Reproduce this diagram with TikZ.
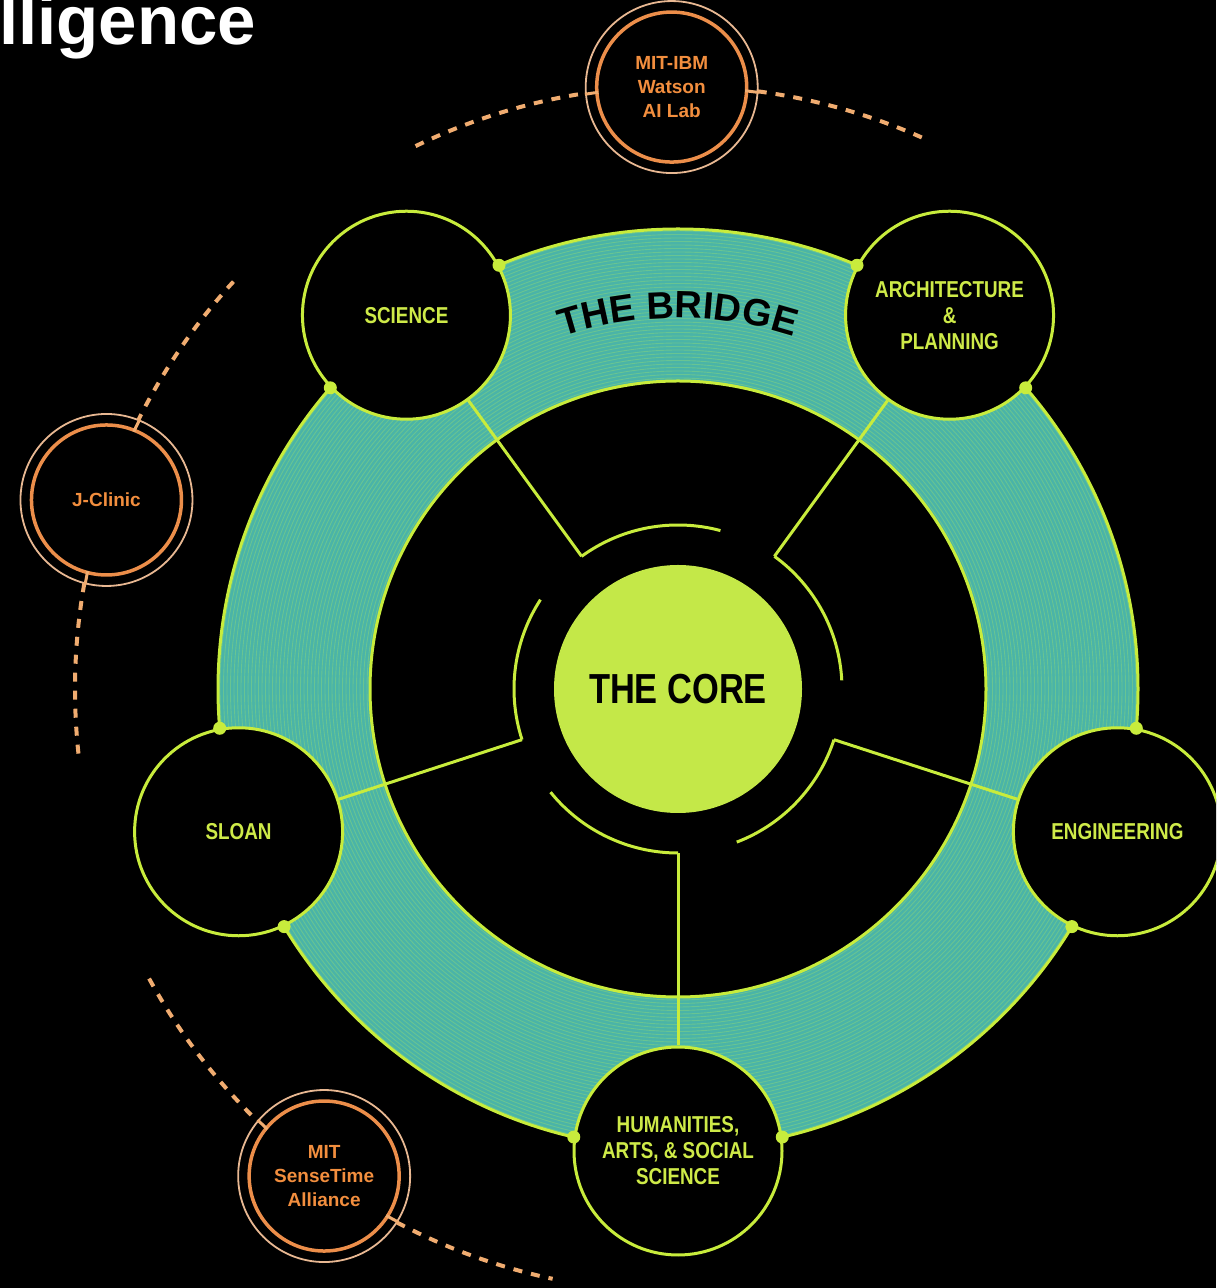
\documentclass[tikz,border=0pt]{standalone}
\usepackage{fontspec}
\usetikzlibrary{decorations.text}
\newfontfamily\lsans{Liberation Sans}
\newfontfamily\lcond{Liberation Sans}[FakeStretch=0.82]
\newcommand\bridgefont{\color{black}\lsans\bfseries\fontsize{38}{40}\selectfont}
\definecolor{lime}{RGB}{200,236,60}
\definecolor{coregreen}{RGB}{196,232,72}
\definecolor{limetext}{RGB}{206,234,72}
\definecolor{tealfill}{RGB}{74,180,168}
\definecolor{tealstripe}{RGB}{104,196,146}
\definecolor{orangering}{RGB}{236,142,74}
\definecolor{peach}{RGB}{232,184,146}
\definecolor{dashcol}{RGB}{240,172,112}
\definecolor{orangetext}{RGB}{242,142,62}
\begin{document}
\begin{tikzpicture}[x=1pt,y=1pt,
  limeline/.style={draw=lime,line width=3pt},
  satbox/.style={circle,draw=lime,line width=3pt,fill=black,minimum size=208pt,inner sep=0pt,
    text=limetext,align=center,font=\lcond\bfseries\fontsize{23}{26}\selectfont},
  orgbox/.style={circle,draw=orangering,line width=3.5pt,fill=black,minimum size=150pt,inner sep=0pt,
    text=orangetext,align=center,font=\lsans\bfseries\fontsize{19}{24}\selectfont},
  outring/.style={draw=peach,line width=1.8pt},
  dashline/.style={draw=dashcol,line width=4pt,dash pattern=on 9pt off 9pt},
  tickline/.style={draw=dashcol,line width=3pt},
  stripe/.style={draw=tealstripe,line width=0.9pt},
  dotmark/.style={fill=lime}
]
\useasboundingbox (0,0) rectangle (1216,1288);
\fill[black] (0,0) rectangle (1216,1288);
\clip (0,0) rectangle (1216,1288);

% title fragment
\node[anchor=base west,text=white,inner sep=0pt,font=\lsans\bfseries\fontsize{69}{72}\selectfont] (title) at (-1,1243) {lligence};

\begin{scope}[shift={(678,599)}]
  % the bridge ring
  \fill[tealfill] (0,0) circle (460);
  \foreach \r in {311,314.5,...,458} \draw[stripe] (0,0) circle (\r);
  \fill[black] (0,0) circle (308);
  \draw[limeline] (0,0) circle (460);
  \draw[limeline] (0,0) circle (308);

  % bridge label
  \path[decorate,decoration={text along path,text={|\bridgefont|THE BRIDGE},text align=center}]
    (130:371) arc[start angle=130,end angle=50,radius=371];

  % satellites
  \node[satbox] (sci) at (126:462) {SCIENCE};
  \node[satbox] (arch) at (54:462) {ARCHITECTURE\\\&\\PLANNING};
  \node[satbox] (eng) at (-18:462) {ENGINEERING};
  \node[satbox] (hum) at (-90:462) {HUMANITIES,\\ARTS, \& SOCIAL\\SCIENCE};
  \node[satbox] (sloan) at (198:462) {SLOAN};

  % core
  \node[circle,fill=coregreen,minimum size=248pt,inner sep=0pt,
    font=\lcond\bfseries\fontsize{42}{44}\selectfont,text=black] (core) at (0,0) {THE CORE};

  % spokes with bracket arcs
  \foreach \a/\s in {126/sci,54/arch,-18/eng,-90/hum,198/sloan}{
    \coordinate (k\s) at (\a:164);
    \draw[limeline] (k\s) arc[start angle=\a,end angle=\a-51,radius=164];
    \draw[limeline] (k\s) -- (\s);
    \fill[dotmark] (\a+13.1:460) circle (6.5);
    \fill[dotmark] (\a-13.1:460) circle (6.5);
  }

  % partner labs
  \node[orgbox] (ibm) at (90.6:602) {MIT-IBM\\Watson\\AI Lab};
  \node[orgbox] (jcl) at (161.7:602) {J-Clinic};
  \node[orgbox] (sense) at (234:602) {MIT\\SenseTime\\Alliance};
  \foreach \n in {ibm,jcl,sense} \draw[outring] (\n.center) circle (86);

  % dashed orbit pieces
  \coordinate (ibmL) at (115.8:603);
  \coordinate (ibmR) at (82.4:603);
  \coordinate (jclT) at (137.5:603);
  \coordinate (jclB) at (169.9:603);
  \coordinate (senT) at (208.7:603);
  \coordinate (senB) at (242.2:603);
  \draw[dashline] (ibmL) arc[start angle=115.8,end angle=98.8,radius=603];
  \draw[dashline] (ibmR) arc[start angle=82.4,end angle=65.8,radius=603];
  \draw[dashline] (jclT) arc[start angle=137.5,end angle=153.5,radius=603];
  \draw[dashline] (jclB) arc[start angle=169.9,end angle=187,radius=603];
  \draw[dashline] (senT) arc[start angle=208.7,end angle=225.8,radius=603];
  \draw[dashline] (senB) arc[start angle=242.2,end angle=258,radius=603];
  % small ticks joining the double rings
  \foreach \c in {90.6,161.7,234}{
    \draw[tickline] (\c+8.3:602) arc[start angle=\c+8.3,end angle=\c+7.0,radius=602];
    \draw[tickline] (\c-8.3:602) arc[start angle=\c-8.3,end angle=\c-7.0,radius=602];
  }
\end{scope}
\end{tikzpicture}
\end{document}
